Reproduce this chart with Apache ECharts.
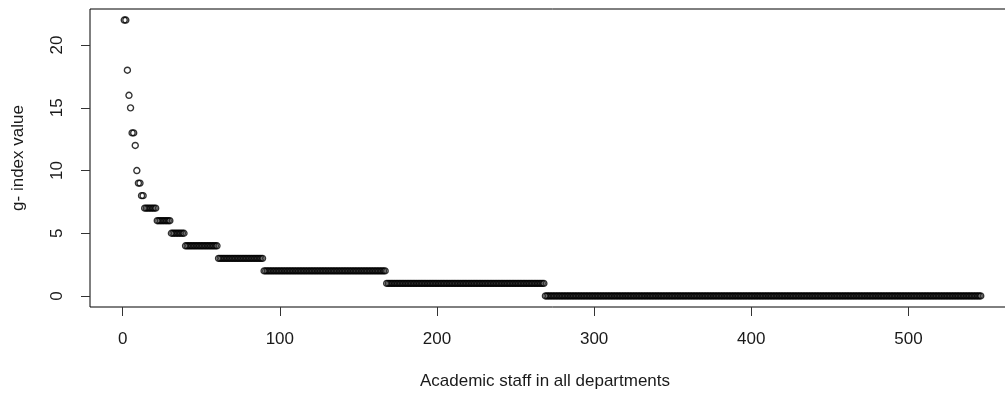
<!DOCTYPE html>
<html>
<head>
<meta charset="utf-8">
<title>g-index of academic staff</title>
<script src="https://cdn.jsdelivr.net/npm/echarts@6/dist/echarts.min.js"></script>
<style>
  html, body { margin: 0; padding: 0; background: #fff; overflow: hidden; }
  /* the plot frame runs slightly past the right edge of the window */
  #chart { width: 1016px; height: 395px; }
</style>
</head>
<body>
<div id="chart"></div>
<script>
// g-index values, sorted from highest to lowest, with how many staff share each value
const gIndexValues = [22, 18, 16, 15, 13, 12, 10, 9, 8, 7, 6, 5, 4, 3, 2, 1, 0];
const staffCounts  = [2, 1, 1, 1, 2, 1, 1, 2, 2, 8, 9, 9, 21, 29, 78, 101, 278];

// Tick labels
const xTicks = [0, 100, 200, 300, 400, 500];
const yTicks = [0, 5, 10, 15, 20];

const xTitle = 'Academic staff in all departments';
const yTitle = 'g- index value';

// One point per staff member: [rank, g-index]
const points = [];
let rank = 1;
gIndexValues.forEach((v, k) => {
  for (let c = 0; c < staffCounts[k]; c++) {
    points.push([rank, v]);
    rank++;
  }
});
const n = points.length;

// Axis ranges padded by 4% on each side
const yMaxVal = Math.max(...gIndexValues);
const yMinVal = Math.min(...gIndexValues);
const xRange = [1 - 0.04 * (n - 1), n + 0.04 * (n - 1)];
const yRange = [yMinVal - 0.04 * (yMaxVal - yMinVal), yMaxVal + 0.04 * (yMaxVal - yMinVal)];

const textColor = '#1a1a1a';
const font = 'Liberation Sans, Arial, sans-serif';

// Axes that only carry the outward tick marks
function tickAxis(range, ticks, position) {
  return {
    type: 'value',
    position: position,
    min: range[0],
    max: range[1],
    splitLine: { show: false },
    axisLine: { show: false, onZero: false },
    axisTick: { show: true, length: 9, customValues: ticks, lineStyle: { color: '#333', width: 1 } },
    axisLabel: { show: false }
  };
}

// Axes that carry the tick labels
function labelAxis(range, ticks, position, rotate) {
  return {
    type: 'value',
    position: position,
    min: range[0],
    max: range[1],
    splitLine: { show: false },
    axisLine: { show: false, onZero: false },
    axisTick: { show: false },
    axisLabel: {
      customValues: ticks, margin: 24, rotate: rotate,
      color: textColor, fontSize: 17, fontFamily: font
    }
  };
}

const chart = echarts.init(document.getElementById('chart'));
chart.setOption({
  animation: false,
  grid: {
    left: 90, top: 9, right: 1, bottom: 88,
    show: true, borderColor: '#000', borderWidth: 1
  },
  xAxis: [tickAxis(xRange, xTicks, 'bottom'), labelAxis(xRange, xTicks, 'bottom', 0)],
  yAxis: [tickAxis(yRange, yTicks, 'left'), labelAxis(yRange, yTicks, 'left', 90)],
  graphic: [
    {
      type: 'text',
      x: 545, y: 373,
      style: {
        text: xTitle, fill: textColor, fontSize: 17, fontFamily: font,
        align: 'center', verticalAlign: 'top'
      }
    },
    {
      type: 'text',
      x: 18, y: 158,
      rotation: Math.PI / 2,
      style: {
        text: yTitle, fill: textColor, fontSize: 17, fontFamily: font,
        align: 'center', verticalAlign: 'middle'
      }
    }
  ],
  series: [{
    type: 'scatter',
    xAxisIndex: 0,
    yAxisIndex: 0,
    data: points,
    symbol: 'circle',
    symbolSize: 6,
    itemStyle: { color: 'transparent', borderColor: '#000', borderWidth: 1.4 },
    emphasis: { disabled: true }
  }]
});
</script>
</body>
</html>
